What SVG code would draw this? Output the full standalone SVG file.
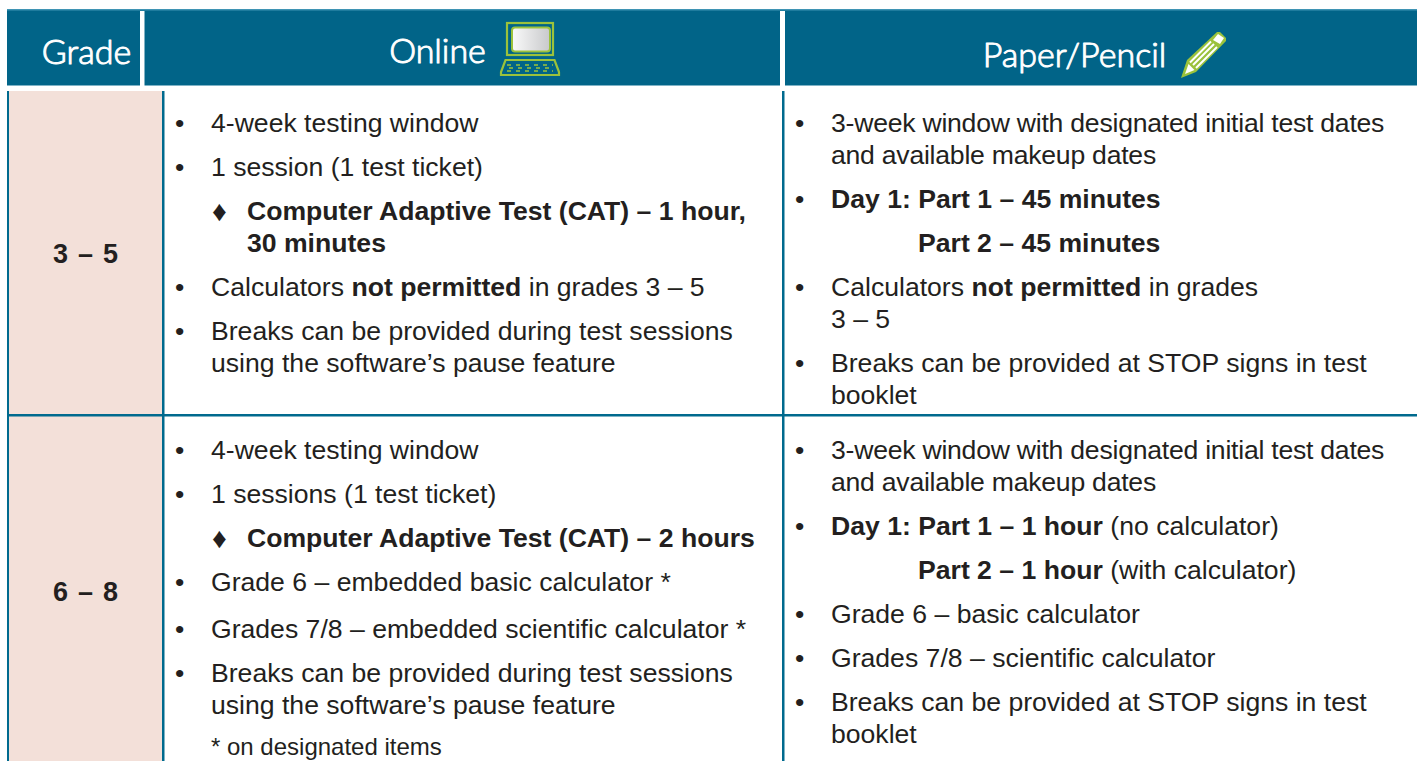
<svg xmlns="http://www.w3.org/2000/svg" width="1417" height="761" viewBox="0 0 1417 761">
<style>
text{font-family:"Liberation Sans",Arial,sans-serif;font-size:26.6px;fill:#231f20}
.b{font-weight:bold}
.t{letter-spacing:-.24px}
.h{font-family:"Lato","Noto Sans",sans-serif;font-size:34px;font-weight:300;fill:#fff;stroke:#fff;stroke-width:1px;stroke-linejoin:round}
.g{text-anchor:middle;font-weight:bold;font-size:27px;word-spacing:2.5px}
.c{font-size:24px}
.d{font-size:29px}
.ln{fill:#006a8e}
.lg{fill:none;stroke:#9bc23c;stroke-width:2.2}
</style>
<defs><linearGradient id="scr" x1="0" x2="1" y1="0" y2="0"><stop offset="0" stop-color="#fafafa"/><stop offset="1" stop-color="#c8c9cb"/></linearGradient></defs>
<rect width="1417" height="761" fill="#fff"/>
<g id="header">
<rect x="7" y="9" width="1410" height="76" fill="#016488"/>
<rect x="7" y="9" width="1410" height="1.5" fill="#3f94b4"/>
<rect x="7" y="85" width="1410" height="1" fill="#7fb3c6"/>
<rect x="140" y="11" width="4.500" height="75" fill="#fff"/>
<rect x="780" y="11" width="5" height="75" fill="#fff"/>
<text class="h" x="86.500" y="64" text-anchor="middle">Grade</text>
<text class="h" x="437.500" y="63" text-anchor="middle">Online</text>
<text class="h" x="1074.500" y="67" text-anchor="middle">Paper/Pencil</text>
<g id="laptop">
<rect x="507" y="23" width="46" height="32" class="lg"/>
<rect x="512" y="27.500" width="38" height="24" rx="3" fill="url(#scr)" stroke="#9bc23c" stroke-width="2"/>
<path d="M505.500 60h49l4.500 12v3h-58v-3z" class="lg"/>
<path d="M507 65h46M509 68h42M507 71h46" stroke="#9bc23c" stroke-width="1.600" stroke-dasharray="4 5"/>
</g>
<g id="pencil">
<path d="M1181 78l6-18 30-28 3 0 6 6 0 3-30 31z" fill="#9bc23c"/>
<path d="M1185 74l3.500-10 6 6z" fill="#fff"/>
<path d="M1190 62.500l21-21M1193 65l21-21M1196 68l21-21" stroke="#fff" stroke-width="2" fill="none"/>
<path d="M1213 40l5-6 6 4-4 6z" fill="#fff"/>
</g>
</g>
<g id="grid">
<rect x="8" y="91" width="154" height="670" fill="#f3e0d9"/>
<rect x="7" y="91" width="2" height="670" class="ln"/>
<rect x="162" y="91" width="2.500" height="670" class="ln"/>
<rect x="782" y="91" width="2.500" height="670" class="ln"/>
<rect x="7" y="414" width="1410" height="2.500" class="ln"/>
</g>
<g id="row-3-5">
<text class="g" x="85.500" y="263">3 – 5</text>
<g id="online-3-5">
<text x="175" y="132">•</text><text x="211" y="132">4-week testing window</text>
<text x="175" y="176">•</text><text x="211" y="176">1 session (1 test ticket)</text>
<text x="212" y="221" class="d">♦</text><text x="247" y="220" class="b">Computer Adaptive Test (CAT) – 1 hour,</text>
<text x="247" y="252" class="b">30 minutes</text>
<text x="175" y="296">•</text><text x="211" y="296">Calculators <tspan class="b">not permitted</tspan> in grades 3 – 5</text>
<text x="175" y="340">•</text><text x="211" y="340">Breaks can be provided during test sessions</text>
<text x="211" y="372">using the software’s pause feature</text>
</g>
<g id="paper-3-5">
<text x="795" y="132">•</text><text x="831" y="132" class="t">3-week window with designated initial test dates</text>
<text x="831" y="164" class="t">and available makeup dates</text>
<text x="795" y="208">•</text><text x="831" y="208" class="b">Day 1: Part 1 – 45 minutes</text>
<text x="918" y="252" class="b">Part 2 – 45 minutes</text>
<text x="795" y="296">•</text><text x="831" y="296">Calculators <tspan class="b">not permitted</tspan> in grades</text>
<text x="831" y="328">3 – 5</text>
<text x="795" y="372">•</text><text x="831" y="372">Breaks can be provided at STOP signs in test</text>
<text x="831" y="404">booklet</text>
</g>
</g>
<g id="row-6-8">
<text class="g" x="85.500" y="601">6 – 8</text>
<g id="online-6-8">
<text x="175" y="459">•</text><text x="211" y="459">4-week testing window</text>
<text x="175" y="503">•</text><text x="211" y="503">1 sessions (1 test ticket)</text>
<text x="212" y="548" class="d">♦</text><text x="247" y="547" class="b">Computer Adaptive Test (CAT) – 2 hours</text>
<text x="175" y="591">•</text><text x="211" y="591">Grade 6 – embedded basic calculator *</text>
<text x="175" y="638">•</text><text x="211" y="638">Grades 7/8 – embedded scientific calculator *</text>
<text x="175" y="682">•</text><text x="211" y="682">Breaks can be provided during test sessions</text>
<text x="211" y="714">using the software’s pause feature</text>
<text x="211" y="755" class="c">* on designated items</text>
</g>
<g id="paper-6-8">
<text x="795" y="459">•</text><text x="831" y="459" class="t">3-week window with designated initial test dates</text>
<text x="831" y="491" class="t">and available makeup dates</text>
<text x="795" y="535">•</text><text x="831" y="535"><tspan class="b">Day 1: Part 1 – 1 hour</tspan> (no calculator)</text>
<text x="918" y="579"><tspan class="b">Part 2 – 1 hour</tspan> (with calculator)</text>
<text x="795" y="623">•</text><text x="831" y="623">Grade 6 – basic calculator</text>
<text x="795" y="667">•</text><text x="831" y="667">Grades 7/8 – scientific calculator</text>
<text x="795" y="711">•</text><text x="831" y="711">Breaks can be provided at STOP signs in test</text>
<text x="831" y="743">booklet</text>
</g>
</g>
</svg>
